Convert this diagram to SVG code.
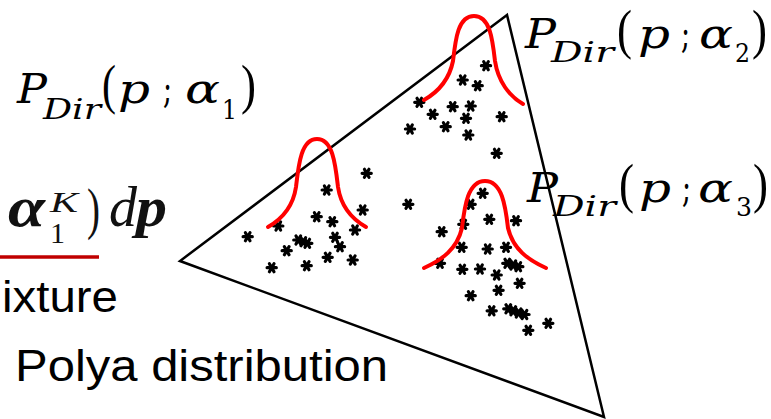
<svg xmlns="http://www.w3.org/2000/svg" xmlns:xlink="http://www.w3.org/1999/xlink" width="771" height="419" viewBox="0 0 771 419">
<style>
.m{font-family:"DejaVu Serif","Liberation Serif",serif;fill:#000}
.pr{font-family:"Liberation Serif","DejaVu Serif",serif;fill:#000;font-size:54px}
.f{font-family:"Liberation Serif","DejaVu Serif",serif;fill:#111}
.i{font-style:italic}
.b{font-weight:bold}
.s{font-family:"Liberation Sans","Noto Sans",sans-serif;fill:#000;font-size:45px}
.bell{fill:none;stroke:#ff0000;stroke-width:4;stroke-linecap:round}
.tri{fill:none;stroke:#000;stroke-width:2.5;stroke-linejoin:miter}
</style>
<defs>
<g id="d"><path d="M-4.6,0H4.6M-2.3,-4L2.3,4M2.3,-4L-2.3,4" stroke="#000" stroke-width="3.2" stroke-linecap="round"/></g>
</defs>
<rect width="771" height="419" fill="#fff"/>
<g id="simplex">
<path class="tri" d="M507,15 L180,261 L604,417 Z"/>
</g>
<g id="dots">
<use xlink:href="#d" x="366.7" y="173.3"/><use xlink:href="#d" x="326.7" y="190"/><use xlink:href="#d" x="362.7" y="210"/>
<use xlink:href="#d" x="316.7" y="216.7"/><use xlink:href="#d" x="332.3" y="221.7"/><use xlink:href="#d" x="278.3" y="226"/>
<use xlink:href="#d" x="355" y="230"/><use xlink:href="#d" x="247.7" y="236.7"/><use xlink:href="#d" x="298.3" y="240"/>
<use xlink:href="#d" x="303.3" y="241.7"/><use xlink:href="#d" x="307.3" y="243.3"/><use xlink:href="#d" x="335" y="237.3"/>
<use xlink:href="#d" x="340" y="246.7"/><use xlink:href="#d" x="286.7" y="250.7"/><use xlink:href="#d" x="327.7" y="257.3"/>
<use xlink:href="#d" x="352.7" y="260"/><use xlink:href="#d" x="271.7" y="267.7"/><use xlink:href="#d" x="306.7" y="265.7"/>
<use xlink:href="#d" x="408.3" y="204.3"/>
<use xlink:href="#d" x="486" y="65.7"/><use xlink:href="#d" x="462.7" y="80"/><use xlink:href="#d" x="477.7" y="85.7"/>
<use xlink:href="#d" x="419.3" y="102.3"/><use xlink:href="#d" x="452.7" y="106.7"/><use xlink:href="#d" x="470.7" y="106"/>
<use xlink:href="#d" x="432.7" y="114.3"/><use xlink:href="#d" x="466" y="118.3"/><use xlink:href="#d" x="501.7" y="116.7"/>
<use xlink:href="#d" x="410" y="129"/><use xlink:href="#d" x="445.7" y="126.7"/><use xlink:href="#d" x="468.3" y="135"/>
<use xlink:href="#d" x="496.7" y="153.3"/>
<use xlink:href="#d" x="482.7" y="193.3"/><use xlink:href="#d" x="470.7" y="204.3"/><use xlink:href="#d" x="489.3" y="219.3"/>
<use xlink:href="#d" x="516" y="220.7"/><use xlink:href="#d" x="463.3" y="224.3"/><use xlink:href="#d" x="441.7" y="231.7"/>
<use xlink:href="#d" x="461.7" y="247.3"/><use xlink:href="#d" x="487.7" y="249"/><use xlink:href="#d" x="506" y="247.3"/>
<use xlink:href="#d" x="440" y="263.3"/><use xlink:href="#d" x="507.3" y="263.3"/><use xlink:href="#d" x="513.3" y="265"/>
<use xlink:href="#d" x="518.3" y="266.7"/><use xlink:href="#d" x="462.3" y="269.3"/><use xlink:href="#d" x="480" y="269"/>
<use xlink:href="#d" x="496.7" y="275"/><use xlink:href="#d" x="519.6" y="283.3"/><use xlink:href="#d" x="498.6" y="290.3"/>
<use xlink:href="#d" x="470.7" y="295.7"/><use xlink:href="#d" x="491.7" y="310.8"/><use xlink:href="#d" x="508.3" y="308.8"/>
<use xlink:href="#d" x="513.3" y="310.8"/><use xlink:href="#d" x="518.6" y="313"/><use xlink:href="#d" x="524.5" y="314.5"/>
<use xlink:href="#d" x="548.3" y="323.3"/><use xlink:href="#d" x="528.3" y="330.3"/>
</g>
<g id="bells">
<path class="bell" d="M268,227 C282,219 293,207 296,187 C298.5,165 301,139 317,139 C333,139 335.5,165 338,187 C341,207 352,219 366,227"/>
<path class="bell" d="M424,100 C438,92 449,81 453,61 C455.5,39 458,16 474,16 C490,16 492.5,39 495,61 C498,81 509,96 523,104"/>
<path class="bell" d="M424,268 C442,260 457,249 462,228 C464.5,206 468,181 485,181 C502,181 505.5,206 508,228 C513,249 528,260 546,268"/>
</g>
<g id="label1">
<text class="m i" x="17" y="103" font-size="41" textLength="30" lengthAdjust="spacingAndGlyphs">P</text>
<text class="m i" x="43" y="119" font-size="27" textLength="58" lengthAdjust="spacingAndGlyphs">Dir</text>
<text class="pr" x="102" y="103" textLength="14" lengthAdjust="spacingAndGlyphs">(</text>
<text class="m i" x="118" y="103" font-size="41" textLength="32" lengthAdjust="spacingAndGlyphs">p</text>
<text class="m" x="163" y="103" font-size="41" textLength="9" lengthAdjust="spacingAndGlyphs">;</text>
<text class="m i" x="185" y="103" font-size="41" textLength="35" lengthAdjust="spacingAndGlyphs">α</text>
<text class="m" x="222" y="119" font-size="26" textLength="15" lengthAdjust="spacingAndGlyphs">1</text>
<text class="pr" x="241" y="103" textLength="15" lengthAdjust="spacingAndGlyphs">)</text>
</g>
<g id="label2">
<text class="m i" x="525" y="48" font-size="41" textLength="31" lengthAdjust="spacingAndGlyphs">P</text>
<text class="m i" x="551" y="62" font-size="27" textLength="63" lengthAdjust="spacingAndGlyphs">Dir</text>
<text class="pr" x="617" y="48" textLength="15" lengthAdjust="spacingAndGlyphs">(</text>
<text class="m i" x="638" y="48" font-size="41" textLength="32" lengthAdjust="spacingAndGlyphs">p</text>
<text class="m" x="681" y="48" font-size="41" textLength="9" lengthAdjust="spacingAndGlyphs">;</text>
<text class="m i" x="699" y="48" font-size="41" textLength="34" lengthAdjust="spacingAndGlyphs">α</text>
<text class="m" x="735" y="62" font-size="26" textLength="15" lengthAdjust="spacingAndGlyphs">2</text>
<text class="pr" x="752" y="48" textLength="15" lengthAdjust="spacingAndGlyphs">)</text>
</g>
<g id="label3">
<text class="m i" x="527" y="202" font-size="41" textLength="31" lengthAdjust="spacingAndGlyphs">P</text>
<text class="m i" x="553" y="216" font-size="27" textLength="63" lengthAdjust="spacingAndGlyphs">Dir</text>
<text class="pr" x="619" y="202" textLength="15" lengthAdjust="spacingAndGlyphs">(</text>
<text class="m i" x="639" y="202" font-size="41" textLength="32" lengthAdjust="spacingAndGlyphs">p</text>
<text class="m" x="682" y="202" font-size="41" textLength="9" lengthAdjust="spacingAndGlyphs">;</text>
<text class="m i" x="698" y="202" font-size="41" textLength="35" lengthAdjust="spacingAndGlyphs">α</text>
<text class="m" x="736" y="216" font-size="26" textLength="16" lengthAdjust="spacingAndGlyphs">3</text>
<text class="pr" x="753" y="202" textLength="15" lengthAdjust="spacingAndGlyphs">)</text>
</g>
<g id="formula">
<text class="f i b" x="8" y="226" font-size="56" textLength="37" lengthAdjust="spacingAndGlyphs">α</text>
<text class="f i" x="50" y="212" font-size="30" textLength="28" lengthAdjust="spacingAndGlyphs">K</text>
<text class="f" x="50" y="243" font-size="30" textLength="15" lengthAdjust="spacingAndGlyphs">1</text>
<text class="f" x="87" y="228" font-size="58" textLength="13" lengthAdjust="spacingAndGlyphs">)</text>
<text class="f i" x="109" y="226" font-size="56" textLength="28" lengthAdjust="spacingAndGlyphs">d</text>
<text class="f i b" x="136" y="226" font-size="56" textLength="31" lengthAdjust="spacingAndGlyphs">p</text>
</g>
<g id="mixture">
<line x1="0" y1="257" x2="99" y2="257" stroke="#c00000" stroke-width="3.5"/>
<text class="s" x="2" y="312" textLength="116" lengthAdjust="spacingAndGlyphs">ixture</text>
</g>
<g id="polya">
<text class="s" x="15" y="381" textLength="373" lengthAdjust="spacingAndGlyphs">Polya distribution</text>
</g>
</svg>
